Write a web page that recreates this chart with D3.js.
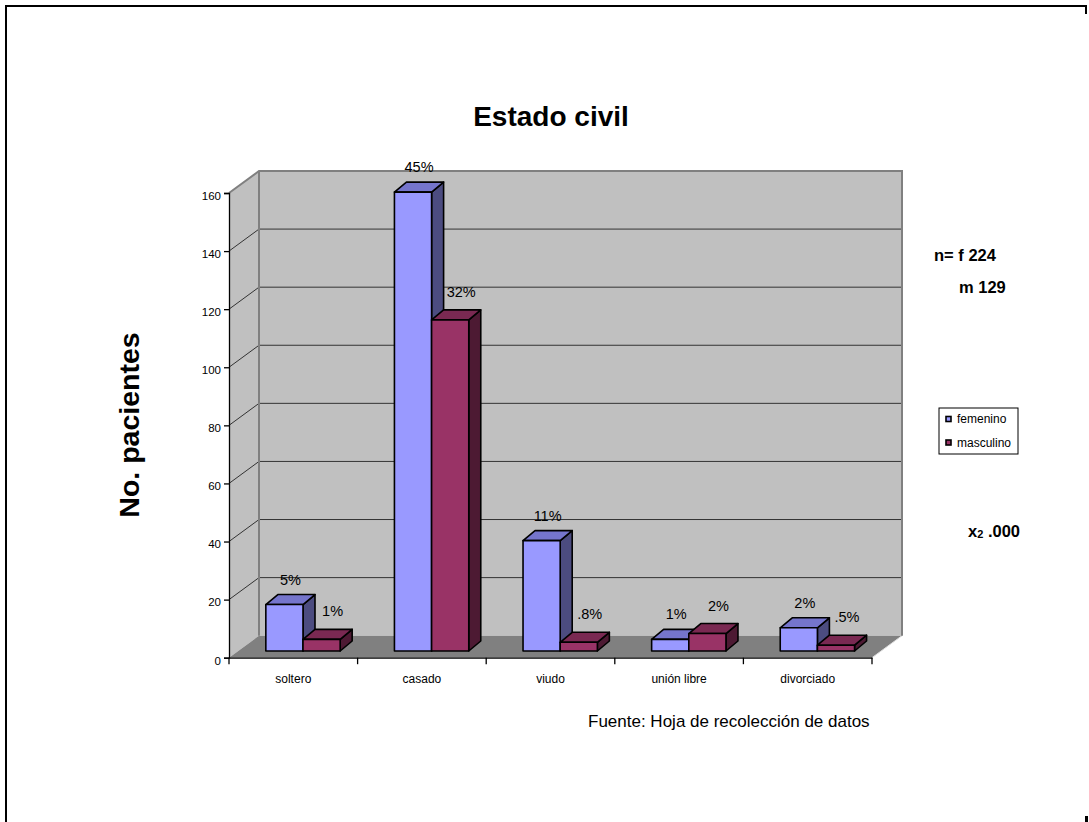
<!DOCTYPE html>
<html>
<head>
<meta charset="utf-8">
<script src="https://cdn.jsdelivr.net/npm/d3@7"></script>
<style>
  html, body { margin: 0; padding: 0; background: #fff; }
  svg { display: block; font-family: "Liberation Sans", Arial, sans-serif; }
</style>
</head>
<body>
<svg id="chart" width="1089" height="822"></svg>
<script>
// Estado civil de los pacientes, por sexo
const categories = ["soltero", "casado", "viudo", "unión libre", "divorciado"];
const femenino = [16, 158, 38, 4, 8];
const masculino = [4, 114, 3, 6, 2];
const etiquetasFemenino = ["5%", "45%", "11%", "1%", "2%"];
const etiquetasMasculino = ["1%", "32%", ".8%", "2%", ".5%"];
const yTicks = [0, 20, 40, 60, 80, 100, 120, 140, 160];
const seriesNames = ["femenino", "masculino"];

const svg = d3.select("#chart");

// oblique 3D geometry
const axisLeft = 229, axisRight = 872, axisBase = 657.7, axisTop = 193;
const depth = { dx: 30, dy: -22 };        // floor / wall depth
const barPlane = { dx: 9.7, dy: -6.7 };   // where bar fronts sit
const barDepth = { dx: 12, dy: -10 };     // depth of each bar

const x = d3.scaleBand().domain(categories).range([axisLeft, axisRight]);
const y = d3.scaleLinear().domain([0, 160]).range([axisBase, axisTop]);

const colors = {
  femenino: { front: "#9999FF", top: "#7575CC", side: "#4C4C80" },
  masculino: { front: "#993366", top: "#7A2952", side: "#4D1A33" }
};

// frame
const frame = svg.append("g").attr("fill", "none").attr("stroke", "#000").attr("stroke-width", 2);
frame.append("path").attr("d", "M6,822 V6 H1086 V14");
svg.append("rect").attr("x", 1085).attr("y", 816).attr("width", 3).attr("height", 6).attr("fill", "#000");

// title
svg.append("text").attr("x", 551).attr("y", 126).attr("text-anchor", "middle")
  .attr("font-size", 28).attr("font-weight", "bold").text("Estado civil");

// walls
const wallTop = y(160);
const walls = svg.append("g");
walls.append("path")
  .attr("d", `M${axisLeft},${axisBase} L${axisLeft},${wallTop} L${axisLeft + depth.dx},${wallTop + depth.dy} L${axisLeft + depth.dx},${axisBase + depth.dy} Z`)
  .attr("fill", "#C0C0C0");
walls.append("rect")
  .attr("x", axisLeft + depth.dx).attr("y", wallTop + depth.dy)
  .attr("width", axisRight - axisLeft).attr("height", axisBase - wallTop)
  .attr("fill", "#C0C0C0");

// gridlines across side and back walls
const grid = svg.append("g").attr("stroke", "#333").attr("stroke-width", 1).attr("fill", "none");
yTicks.filter(t => t > 0 && t < 160).forEach(t => {
  grid.append("path")
    .attr("d", `M${axisLeft},${y(t)} L${axisLeft + depth.dx},${y(t) + depth.dy} H${axisRight + depth.dx}`);
});

// floor
svg.append("path")
  .attr("d", `M${axisLeft},${axisBase} L${axisLeft + depth.dx},${axisBase + depth.dy} H${axisRight + depth.dx} L${axisRight},${axisBase} Z`)
  .attr("fill", "#808080");
svg.append("path")
  .attr("d", `M${axisRight + depth.dx},${axisBase + depth.dy} L${axisRight},${axisBase}`)
  .attr("stroke", "#e0e0e0").attr("stroke-width", 1);

// wall borders
svg.append("path")
  .attr("d", `M${axisLeft},${wallTop} L${axisLeft + depth.dx},${wallTop + depth.dy} H${axisRight + depth.dx} V${axisBase + depth.dy}`)
  .attr("fill", "none").attr("stroke", "#808080").attr("stroke-width", 2);
svg.append("path")
  .attr("d", `M${axisLeft + depth.dx},${wallTop + depth.dy} V${axisBase + depth.dy}`)
  .attr("fill", "none").attr("stroke", "#808080").attr("stroke-width", 2);

// y axis
const yAxis = d3.axisLeft(y).tickValues(yTicks).tickSize(5).tickPadding(3);
const gy = svg.append("g").attr("transform", `translate(${axisLeft},0)`).call(yAxis);
gy.select(".domain").attr("stroke", "#000").attr("stroke-width", 1.3);
gy.selectAll(".tick line").attr("stroke", "#000").attr("stroke-width", 1.3);
gy.selectAll(".tick text").attr("font-size", 11.5).attr("font-family", "Liberation Sans, Arial, sans-serif")
  .attr("fill", "#000").attr("dy", "0.55em");

// x axis
const xAxis = d3.axisBottom(x).tickSize(0).tickPadding(17);
const gx = svg.append("g").attr("transform", `translate(0,${axisBase})`).call(xAxis);
gx.select(".domain").attr("stroke", "#000").attr("stroke-width", 1.3);
gx.selectAll(".tick text").attr("font-size", 12).attr("font-family", "Liberation Sans, Arial, sans-serif")
  .attr("fill", "#000");
// category separators
const seps = categories.map(c => x(c)).concat([axisRight]);
gx.selectAll(".sep").data(seps).enter().append("line")
  .attr("x1", d => d).attr("x2", d => d).attr("y1", 0).attr("y2", 6.5)
  .attr("stroke", "#000").attr("stroke-width", 1.3);

// bars
const inner = d3.scaleBand().domain(seriesNames).range([0, x.bandwidth()]).paddingOuter(0.73).paddingInner(0);
const bw = inner.bandwidth();
const barsG = svg.append("g").attr("stroke", "#000").attr("stroke-width", 1.6).attr("stroke-linejoin", "round");

const seriesData = { femenino: femenino, masculino: masculino };
const labelData = { femenino: etiquetasFemenino, masculino: etiquetasMasculino };
const labelShift = { femenino: { dx: 0, dy: -10 }, masculino: { dx: 5, dy: -13 } };

categories.forEach((c, i) => {
  seriesNames.forEach(s => {
    const v = seriesData[s][i];
    const x0 = x(c) + inner(s) + barPlane.dx;
    const x1 = x0 + bw;
    const yb = y(0) + barPlane.dy;
    const yt = y(v) + barPlane.dy;
    const col = colors[s];
    // side face
    barsG.append("path")
      .attr("d", `M${x1},${yb} L${x1},${yt} L${x1 + barDepth.dx},${yt + barDepth.dy} L${x1 + barDepth.dx},${yb + barDepth.dy} Z`)
      .attr("fill", col.side);
    // top face
    barsG.append("path")
      .attr("d", `M${x0},${yt} L${x0 + barDepth.dx},${yt + barDepth.dy} L${x1 + barDepth.dx},${yt + barDepth.dy} L${x1},${yt} Z`)
      .attr("fill", col.top);
    // front face
    barsG.append("rect")
      .attr("x", x0).attr("y", yt).attr("width", bw).attr("height", yb - yt)
      .attr("fill", col.front);
    // value label
    svg.append("text")
      .attr("x", (x0 + x1) / 2 + barDepth.dx / 2 + labelShift[s].dx)
      .attr("y", yt + barDepth.dy + labelShift[s].dy)
      .attr("text-anchor", "middle").attr("font-size", 14.5).attr("fill", "#000")
      .text(labelData[s][i]);
  });
});

// y axis title
svg.append("text")
  .attr("transform", "translate(139,425) rotate(-90)")
  .attr("text-anchor", "middle").attr("font-size", 28.5).attr("font-weight", "bold")
  .text("No. pacientes");

// sample size and chi-square notes
svg.append("text").attr("x", 934).attr("y", 261).attr("font-size", 16.5).attr("font-weight", "bold").text("n= f 224");
svg.append("text").attr("x", 959).attr("y", 293).attr("font-size", 16.5).attr("font-weight", "bold").text("m 129");
const chi = svg.append("text").attr("x", 968).attr("y", 537).attr("font-size", 16.5).attr("font-weight", "bold");
chi.append("tspan").text("x");
chi.append("tspan").attr("font-size", 11).attr("dy", 1).text("2");
chi.append("tspan").attr("dy", -1).text(" .000");

// legend
const legend = svg.append("g").attr("transform", "translate(939,408)");
legend.append("rect").attr("width", 79).attr("height", 46).attr("fill", "#fff").attr("stroke", "#000").attr("stroke-width", 1);
seriesNames.forEach((s, i) => {
  const ly = 11 + i * 23.5;
  legend.append("rect").attr("x", 7).attr("y", ly - 2.5).attr("width", 5).attr("height", 5)
    .attr("fill", colors[s].front).attr("stroke", "#000").attr("stroke-width", 1.6);
  legend.append("text").attr("x", 18).attr("y", ly + 4.3).attr("font-size", 12).attr("fill", "#000").text(s);
});

// source
svg.append("text").attr("x", 588).attr("y", 727).attr("font-size", 17).attr("fill", "#000")
  .text("Fuente: Hoja de recolección de datos");
</script>
</body>
</html>
